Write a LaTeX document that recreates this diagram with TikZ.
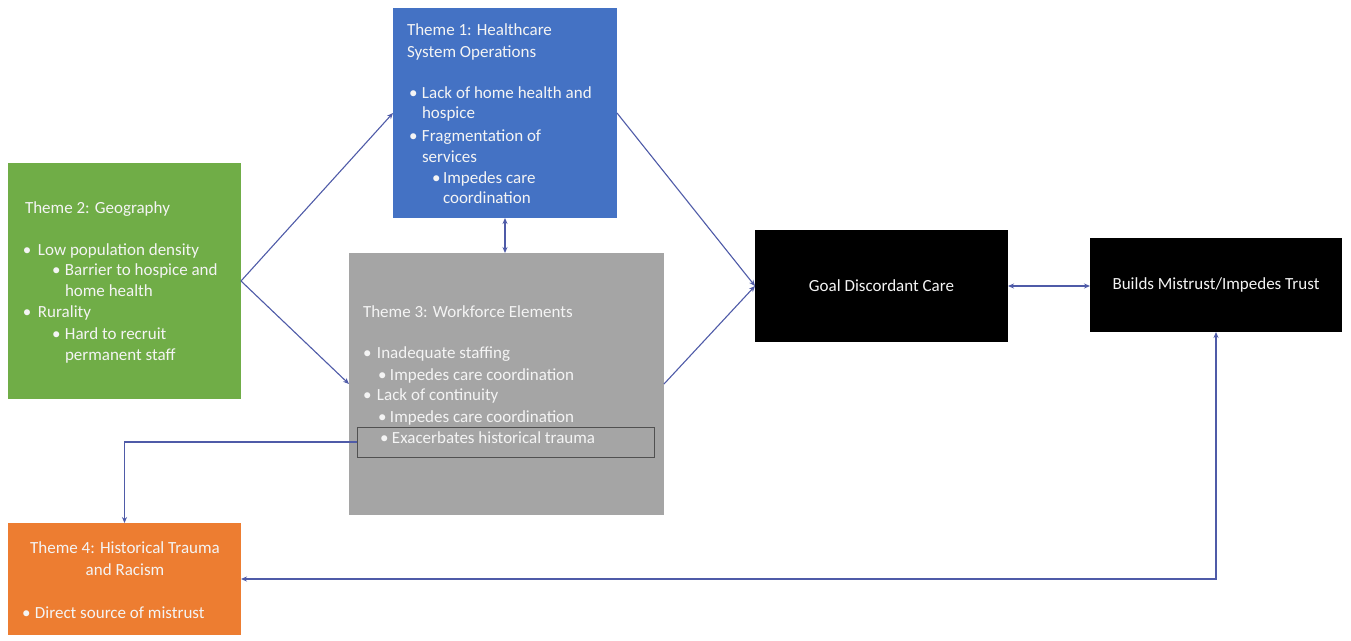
\documentclass[tikz,border=0pt]{standalone}
\usepackage{fontspec}
\setmainfont{Carlito}
\usetikzlibrary{arrows.meta}
\definecolor{cblue}{HTML}{4472C4}
\definecolor{cgreen}{HTML}{70AD47}
\definecolor{cgray}{HTML}{A5A5A5}
\definecolor{corange}{HTML}{ED7D31}
\definecolor{cline}{HTML}{4F5BA8}
\definecolor{cframe}{HTML}{505050}
\definecolor{ctext}{HTML}{F4F4F4}
\newcommand{\bl}[1]{\makebox[#1pt][l]{\textbullet}}
\begin{document}
\begin{tikzpicture}[x=1pt,y=-1pt,
  box/.style={draw=none,rectangle,inner sep=0,outer sep=0},
  txt/.style={anchor=base west,inner sep=0,outer sep=0,text=ctext,font=\fontsize{17}{20}\selectfont},
  ctxt/.style={anchor=base,inner sep=0,outer sep=0,text=ctext,font=\fontsize{17}{20}\selectfont},
  conn/.style={draw=cline,line width=1.1pt},
  tip/.tip={Stealth[length=6pt,width=5pt]}]
\useasboundingbox (0,0) rectangle (1351,640);
\fill[white] (0,0) rectangle (1351,640);
% boxes
\node[box,fill=cblue,minimum width=224pt,minimum height=210pt] (blue) at (505,113) {};
\node[box,fill=cgreen,minimum width=233pt,minimum height=236pt] (green) at (124.5,281) {};
\node[box,fill=cgray,minimum width=315pt,minimum height=262pt] (gray) at (506.5,384) {};
\node[box,fill=corange,minimum width=233pt,minimum height=112pt] (orange) at (124.5,579) {};
\node[box,fill=black,minimum width=253pt,minimum height=112pt] (goal) at (881.5,286) {};
\node[box,fill=black,minimum width=252pt,minimum height=94pt] (trust) at (1216,285) {};
\node[box,draw=cframe,line width=1pt,minimum width=297pt,minimum height=30pt] (inner) at (505.5,442) {};
% blue text
\node[txt] (b1) at (407,35) {Theme 1: Healthcare};
\node[txt] (b2) at (407,57) {System Operations};
\node[txt] (b3) at (409,98) {\bl{13}Lack of home health and};
\node[txt] (b4) at (422,118) {hospice};
\node[txt] (b5) at (409,141) {\bl{13}Fragmentation of};
\node[txt] (b6) at (422,162) {services};
\node[txt] (b7) at (432,183) {\bl{11}Impedes care};
\node[txt] (b8) at (443,203) {coordination};
% green text
\node[txt] (g1) at (25,213) {Theme 2: Geography};
\node[txt] (g2) at (23,255) {\bl{15}Low population density};
\node[txt] (g3) at (52,275) {\bl{13}Barrier to hospice and};
\node[txt] (g4) at (65,296) {home health};
\node[txt] (g5) at (23,317) {\bl{15}Rurality};
\node[txt] (g6) at (52,339) {\bl{13}Hard to recruit};
\node[txt] (g7) at (65,360) {permanent staff};
% gray text
\node[txt] (w1) at (363,317) {Theme 3: Workforce Elements};
\node[txt] (w2) at (363,358) {\bl{14}Inadequate staffing};
\node[txt] (w3) at (378,380) {\bl{12}Impedes care coordination};
\node[txt] (w4) at (363,400) {\bl{14}Lack of continuity};
\node[txt] (w5) at (378,422) {\bl{12}Impedes care coordination};
\node[txt] (w6) at (380,443) {\bl{12}Exacerbates historical trauma};
% orange text
\node[ctxt] (o1) at (125,553) {Theme 4: Historical Trauma};
\node[ctxt] (o2) at (125,575) {and Racism};
\node[txt] (o3) at (22,618) {\bl{13}Direct source of mistrust};
% black text
\node[ctxt,anchor=center] (gt) at (goal.center) {Goal Discordant Care};
\node[ctxt,anchor=center] (tt) at (trust.center) {Builds Mistrust/Impedes Trust};
% connectors
\draw[conn,-tip] (green.east) -- (blue.west);
\draw[conn,-tip] (green.east) -- (gray.west);
\draw[conn,tip-tip] (blue.south) -- (blue.south|-gray.north);
\draw[conn,-tip] (blue.east) -- (goal.west);
\draw[conn,-tip] (gray.east) -- (goal.west);
\draw[conn,tip-tip] (goal.east) -- (goal.east-|trust.west);
\draw[conn,-tip] (inner.west) -| (orange.north);
\draw[conn,tip-tip] (trust.south) |- (orange.east);
\end{tikzpicture}
\end{document}
